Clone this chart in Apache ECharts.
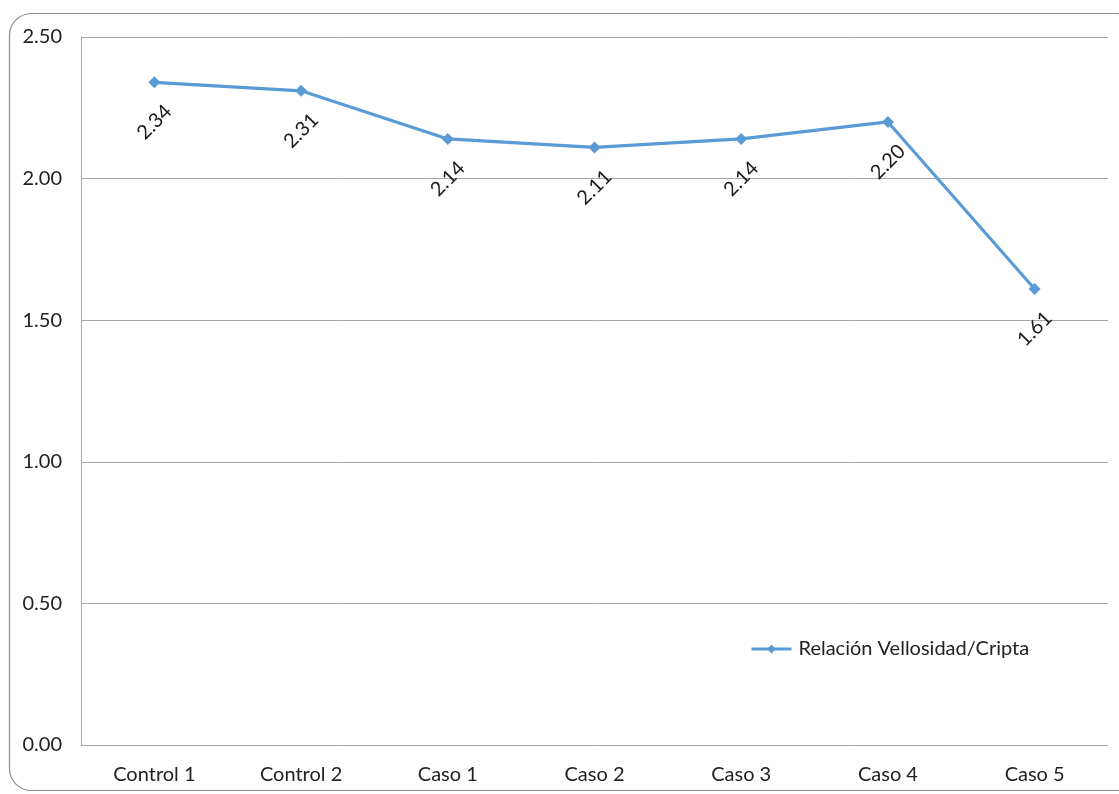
<!DOCTYPE html>
<html>
<head>
<meta charset="utf-8">
<script src="https://cdn.jsdelivr.net/npm/echarts@6/dist/echarts.min.js"></script>
<style>
  html, body { margin: 0; padding: 0; background: #fff; }
  #chart { width: 1119px; height: 794px; }
</style>
</head>
<body>
<div id="chart"></div>
<script>
// Villus / crypt ratio per group
const categories = ['Control 1', 'Control 2', 'Caso 1', 'Caso 2', 'Caso 3', 'Caso 4', 'Caso 5'];
const ratioValues = [2.34, 2.31, 2.14, 2.11, 2.14, 2.20, 1.61];
const seriesName = 'Relación Vellosidad/Cripta';

const FONT = 'Lato, "Open Sans", sans-serif';
const BLUE = '#5B9BD5';
const GRID_GRAY = '#A6A6A6';
const TEXT = '#222';

const chart = echarts.init(document.getElementById('chart'), null, { renderer: 'canvas' });

chart.setOption({
  animation: false,
  backgroundColor: '#fff',
  graphic: [{
    type: 'rect',
    z: -10,
    shape: { x: 9.5, y: 13.5, width: 1130, height: 777, r: 22 },
    style: { fill: 'none', stroke: '#8C8C8C', lineWidth: 1.2 }
  }],
  grid: { left: 81, right: 11, top: 37, bottom: 49, containLabel: false },
  legend: {
    left: 745,
    top: 634,
    itemWidth: 40,
    itemHeight: 11,
    itemGap: 10,
    lineStyle: { width: 3 },
    textStyle: { fontFamily: FONT, fontSize: 20, color: TEXT, padding: [0, 0, 0, 2] },
    data: [seriesName]
  },
  xAxis: {
    type: 'category',
    data: categories,
    boundaryGap: true,
    axisLine: { show: true, lineStyle: { color: GRID_GRAY, width: 1 } },
    axisTick: { show: false },
    axisLabel: { fontFamily: FONT, fontSize: 20, color: TEXT, margin: 20 }
  },
  yAxis: {
    type: 'value',
    min: 0,
    max: 2.5,
    interval: 0.5,
    axisLine: { show: true, lineStyle: { color: GRID_GRAY, width: 1 } },
    axisTick: { show: false },
    splitLine: { show: true, lineStyle: { color: GRID_GRAY, width: 1 } },
    axisLabel: {
      fontFamily: FONT, fontSize: 20, color: TEXT, margin: 19,
      formatter: v => v.toFixed(2)
    }
  },
  series: [{
    name: seriesName,
    type: 'line',
    data: ratioValues,
    symbol: 'diamond',
    symbolSize: 12,
    lineStyle: { color: BLUE, width: 3.2 },
    itemStyle: { color: BLUE },
    label: {
      show: true,
      position: 'bottom',
      distance: 34,
      rotate: 45,
      align: 'center',
      verticalAlign: 'middle',
      fontFamily: FONT,
      fontSize: 20,
      color: '#1a1a1a',
      formatter: p => p.value.toFixed(2)
    }
  }]
});
</script>
</body>
</html>
